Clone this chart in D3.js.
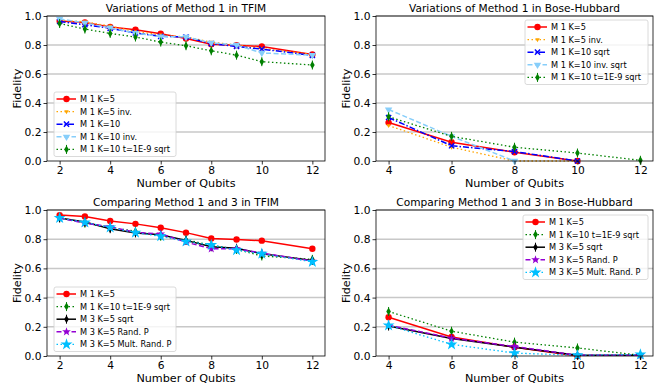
<!DOCTYPE html>
<html><head><meta charset="utf-8">
<script src="https://cdn.jsdelivr.net/npm/d3@7"></script>
<style>body{margin:0;background:#fff}svg{font-family:"DejaVu Sans",sans-serif}</style>
</head><body><svg id="c" width="670" height="388"></svg>
<script>
const qTFIM = [2,3,4,5,6,7,8,9,10,12];
const qBH = [4,6,8,10,12];
const yTicks = [0,0.2,0.4,0.6,0.8,1.0];

// TFIM, variations of method 1
const tfM1K5 = [0.965,0.955,0.925,0.905,0.878,0.845,0.805,0.798,0.79,0.735];
const tfM1K5inv = [0.97,0.96,0.93,0.893,0.87,0.855,0.82,0.80,0.775,0.735];
const tfM1K10 = [0.962,0.94,0.915,0.883,0.86,0.855,0.81,0.79,0.772,0.728];
const tfM1K10inv = [0.98,0.952,0.918,0.882,0.858,0.856,0.815,0.80,0.745,0.73];
const tfM1K10t = [0.948,0.91,0.88,0.855,0.82,0.795,0.76,0.73,0.685,0.662];
// TFIM, method 3
const tfM3sqrt = [0.945,0.918,0.872,0.843,0.83,0.792,0.748,0.738,0.70,0.655];
const tfM3rand = [0.945,0.91,0.885,0.847,0.836,0.78,0.735,0.735,0.705,0.65];
const tfM3mult = [0.945,0.915,0.88,0.845,0.82,0.785,0.76,0.725,0.70,0.645];

// Bose-Hubbard, variations of method 1
const bhM1K5 = [0.265,0.13,0.06,0.0,null];
const bhM1K5inv = [0.245,0.095,0.0,0.0,null];
const bhM1K10sqrt = [0.30,0.105,0.065,0.0,null];
const bhM1K10invsqrt = [0.355,0.17,0.0,null,null];
const bhM1K10t = [0.305,0.17,0.095,0.055,0.005];
// Bose-Hubbard, method 3
const bhM3sqrt = [0.205,0.12,0.06,0.005,0.005];
const bhM3rand = [0.21,0.122,0.065,0.005,0.005];
const bhM3mult = [0.21,0.08,0.02,0.005,0.01];

const S = {
  m1k5:{color:"#ff0000",dash:null,marker:"circle",w:1.5},
  m1k5inv:{color:"#ffa500",dash:"1.5,2.5",marker:"dot",w:1.3},
  m1k10:{color:"#0000ff",dash:"6,2,1.5,2",marker:"x",w:1.5},
  m1k10inv:{color:"#87cefa",dash:"5,2.5",marker:"tri",w:1.5},
  m1t:{color:"#008000",dash:"1.5,2.5",marker:"thin",w:1.3},
  m3sqrt:{color:"#000000",dash:null,marker:"thin",w:1.5},
  m3rand:{color:"#9400d3",dash:"5,2.5",marker:"star",w:1.5},
  m3mult:{color:"#00bfff",dash:"1.5,2.5",marker:"bigstar",w:1.3}
};

const panels = [
  {title:"Variations of Method 1 in TFIM", x:qTFIM, xd:[1.5,12.5], xt:[2,4,6,8,10,12],
   l:47,r:325,t:16,b:161, leg:{x:54,y:92,w:122},
   series:[["M 1 K=5",tfM1K5,S.m1k5],["M 1 K=5 inv.",tfM1K5inv,S.m1k5inv],["M 1 K=10",tfM1K10,S.m1k10],
           ["M 1 K=10 inv.",tfM1K10inv,S.m1k10inv],["M 1 K=10 t=1E-9 sqrt",tfM1K10t,S.m1t]]},
  {title:"Variations of Method 1 in Bose-Hubbard", x:qBH, xd:[3.6,12.4], xt:[4,6,8,10,12],
   l:376,r:653,t:16,b:161, leg:{x:525,y:20,w:123},
   series:[["M 1 K=5",bhM1K5,S.m1k5],["M 1 K=5 inv.",bhM1K5inv,S.m1k5inv],["M 1 K=10 sqrt",bhM1K10sqrt,S.m1k10],
           ["M 1 K=10 inv. sqrt",bhM1K10invsqrt,S.m1k10inv],["M 1 K=10 t=1E-9 sqrt",bhM1K10t,S.m1t]]},
  {title:"Comparing Method 1 and 3 in TFIM", x:qTFIM, xd:[1.5,12.5], xt:[2,4,6,8,10,12],
   l:47,r:325,t:210,b:356, leg:{x:54,y:287,w:122},
   series:[["M 1 K=5",tfM1K5,S.m1k5],["M 1 K=10 t=1E-9 sqrt",tfM1K10t,S.m1t],["M 3 K=5 sqrt",tfM3sqrt,S.m3sqrt],
           ["M 3 K=5 Rand. P",tfM3rand,S.m3rand],["M 3 K=5 Mult. Rand. P",tfM3mult,S.m3mult]]},
  {title:"Comparing Method 1 and 3 in Bose-Hubbard", x:qBH, xd:[3.6,12.4], xt:[4,6,8,10,12],
   l:376,r:653,t:210,b:356, leg:{x:523,y:215,w:125},
   series:[["M 1 K=5",bhM1K5,S.m1k5],["M 1 K=10 t=1E-9 sqrt",bhM1K10t,S.m1t],["M 3 K=5 sqrt",bhM3sqrt,S.m3sqrt],
           ["M 3 K=5 Rand. P",bhM3rand,S.m3rand],["M 3 K=5 Mult. Rand. P",bhM3mult,S.m3mult]]}
];

const svg = d3.select("#c");

function drawMarker(g, type, color, x, y){
  if(type==="circle") g.append("circle").attr("cx",x).attr("cy",y).attr("r",3.2).attr("fill",color);
  else if(type==="dot") g.append("path").attr("d",d3.symbol(d3.symbolTriangle,9)()).attr("transform",`translate(${x},${y}) rotate(180)`).attr("fill",color);
  else if(type==="x") g.append("path").attr("d",`M${x-2.6},${y-2.6}L${x+2.6},${y+2.6}M${x-2.6},${y+2.6}L${x+2.6},${y-2.6}`).attr("stroke",color).attr("stroke-width",1.4);
  else if(type==="tri") g.append("path").attr("d",d3.symbol(d3.symbolTriangle,24)()).attr("transform",`translate(${x},${y}) rotate(180)`).attr("fill",color);
  else if(type==="thin") {
    g.append("path").attr("d",`M${x},${y-4}L${x+2.3},${y}L${x},${y+4}L${x-2.3},${y}Z`).attr("fill",color);
    g.append("path").attr("d",`M${x},${y-4.5}L${x},${y+4.5}`).attr("stroke",color).attr("stroke-width",1);
  }
  else if(type==="star") g.append("path").attr("d",d3.symbol(d3.symbolStar,24)()).attr("transform",`translate(${x},${y})`).attr("fill",color);
  else if(type==="bigstar") g.append("path").attr("d",d3.symbol(d3.symbolStar,44)()).attr("transform",`translate(${x},${y})`).attr("fill",color);
}

panels.forEach(p=>{
  const xs = d3.scaleLinear().domain(p.xd).range([p.l,p.r]);
  const ys = d3.scaleLinear().domain([0,1]).range([p.b,p.t]);
  const g = svg.append("g");
  g.selectAll(".gr").data(yTicks.slice(1)).join("line")
    .attr("x1",p.l).attr("x2",p.r).attr("y1",d=>ys(d)).attr("y2",d=>ys(d))
    .attr("stroke","#c8c8c8").attr("stroke-width",1.5);
  const clip = "clip"+p.l+p.t;
  svg.append("clipPath").attr("id",clip).append("rect").attr("x",p.l).attr("y",p.t-6).attr("width",p.r-p.l).attr("height",p.b-p.t+12);
  const dg = g.append("g").attr("clip-path",`url(#${clip})`);
  p.series.forEach(([name,vals,st])=>{
    const pts = p.x.map((q,i)=>[q,vals[i]]).filter(d=>d[1]!=null);
    dg.append("path").datum(pts)
      .attr("d",d3.line().x(d=>xs(d[0])).y(d=>ys(d[1])))
      .attr("fill","none").attr("stroke",st.color).attr("stroke-width",st.w)
      .attr("stroke-dasharray",st.dash);
    pts.forEach(d=>drawMarker(dg,st.marker,st.color,xs(d[0]),ys(d[1])));
  });
  const xa = g.append("g").attr("transform",`translate(0,${p.b})`)
    .call(d3.axisBottom(xs).tickValues(p.xt).tickSize(3.5).tickPadding(1.5));
  const ya = g.append("g").attr("transform",`translate(${p.l},0)`)
    .call(d3.axisLeft(ys).tickValues(yTicks).tickFormat(d3.format(".1f")).tickSize(3.5).tickPadding(2));
  [xa,ya].forEach(a=>{a.select(".domain").remove();a.selectAll("text").attr("font-size",10.7).attr("fill","#000").attr("font-family","DejaVu Sans");a.selectAll("line").attr("stroke","#000").attr("stroke-width",0.8);});
  g.append("rect").attr("x",p.l).attr("y",p.t).attr("width",p.r-p.l).attr("height",p.b-p.t)
    .attr("fill","none").attr("stroke","#000").attr("stroke-width",0.8);
  g.append("text").attr("x",(p.l+p.r)/2).attr("y",p.t-4).attr("text-anchor","middle").attr("font-size",10.6).text(p.title);
  g.append("text").attr("x",(p.l+p.r)/2).attr("y",p.b+25.5).attr("text-anchor","middle").attr("font-size",11.2).text("Number of Qubits");
  g.append("text").attr("transform",`translate(${p.l-26},${(p.t+p.b)/2}) rotate(-90)`).attr("text-anchor","middle").attr("font-size",11.2).text("Fidelity");
  const L = p.leg, rh = 12.6;
  const lg = g.append("g");
  lg.append("rect").attr("x",L.x).attr("y",L.y).attr("width",L.w).attr("height",rh*5+1.5).attr("rx",2)
    .attr("fill","#fff").attr("fill-opacity",0.8).attr("stroke","#d0d0d0").attr("stroke-width",0.8);
  p.series.forEach(([name,vals,st],i)=>{
    const cy = L.y+7+i*rh;
    lg.append("line").attr("x1",L.x+2.5).attr("x2",L.x+22).attr("y1",cy).attr("y2",cy)
      .attr("stroke",st.color).attr("stroke-width",st.w).attr("stroke-dasharray",st.dash);
    drawMarker(lg,st.marker,st.color,L.x+12.5,cy);
    lg.append("text").attr("x",L.x+26).attr("y",cy+3).attr("font-size",8.2).text(name);
  });
});
</script></body></html>
